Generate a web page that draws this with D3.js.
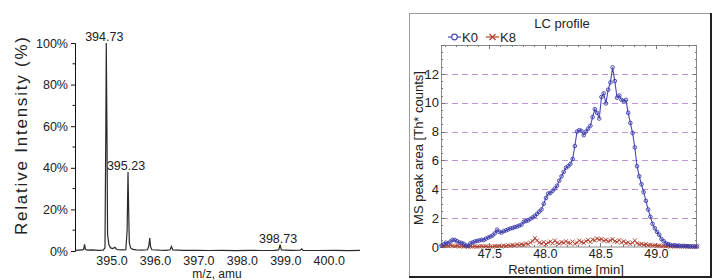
<!DOCTYPE html>
<html><head><meta charset="utf-8">
<script src="https://cdn.jsdelivr.net/npm/d3@7"></script>
<style>
body{margin:0;background:#fff;}
svg{display:block;font-family:Arial,"Liberation Sans",sans-serif;}
</style></head>
<body>
<script>
// ---------- Left: mass spectrum ----------
const specMz = [394.02,394.10,394.18,394.21,394.23,394.25,394.29,394.40,394.55,394.66,394.70,394.72,394.73,394.745,394.76,394.79,394.83,394.88,394.93,394.96,395.00,395.10,395.18,395.21,395.23,395.245,395.26,395.29,395.34,395.42,395.55,395.68,395.71,395.73,395.75,395.78,395.95,396.10,396.20,396.23,396.26,396.50,396.80,397.10,397.40,397.70,398.00,398.30,398.60,398.70,398.73,398.76,399.00,399.20,399.23,399.26,399.60,400.00,400.30,400.57];
const specInt = [0.3,0.4,0.5,0.8,3.2,0.8,0.4,0.5,0.3,0.4,1.5,60,100,60,8,3,1.5,1.2,1.8,1.0,0.6,0.5,0.6,10,38,20,4,1.5,0.8,0.5,0.4,0.6,2.5,6.2,2.0,0.6,0.4,0.3,0.6,2.2,0.5,0.3,0.35,0.25,0.3,0.2,0.3,0.25,0.3,0.5,3.0,0.5,0.3,0.4,1.0,0.3,0.25,0.3,0.2,0.3];
const peakLabels = ["394.73","395.23","398.73"];
const peakMz = [394.73,395.23,398.73];
const peakInt = [100,38,3];
const mzTicks = [395.0,396.0,397.0,398.0,399.0,400.0];
const intTicks = [0,20,40,60,80,100];
const intMinor = [10,30,50,70,90];

// ---------- Right: LC profile ----------
const rtTimes = [47.07,47.09,47.11,47.13,47.15,47.17,47.19,47.21,47.23,47.25,47.27,47.29,47.31,47.33,47.35,47.37,47.39,47.41,47.43,47.45,47.47,47.49,47.51,47.53,47.55,47.57,47.59,47.61,47.63,47.65,47.67,47.69,47.71,47.73,47.75,47.77,47.79,47.81,47.83,47.85,47.87,47.89,47.91,47.93,47.95,47.97,47.99,48.01,48.03,48.05,48.07,48.09,48.11,48.13,48.15,48.17,48.19,48.21,48.23,48.25,48.27,48.29,48.31,48.33,48.35,48.37,48.39,48.41,48.43,48.45,48.47,48.49,48.51,48.53,48.55,48.57,48.59,48.61,48.63,48.65,48.67,48.69,48.71,48.73,48.75,48.77,48.79,48.81,48.83,48.85,48.87,48.89,48.91,48.93,48.95,48.97,48.99,49.01,49.03,49.05,49.07,49.09,49.11,49.13,49.15,49.17,49.19,49.21,49.23,49.25,49.27,49.29,49.31,49.33,49.35,49.37];
const k0 = [0.10,0.20,0.30,0.25,0.38,0.50,0.48,0.40,0.32,0.28,0.22,0.10,0.08,0.25,0.32,0.38,0.42,0.45,0.50,0.48,0.58,0.65,0.72,0.80,0.95,1.20,1.05,1.00,1.10,1.15,1.22,1.28,1.32,1.38,1.42,1.48,1.55,1.75,1.80,1.85,1.95,2.05,2.15,2.30,2.45,2.60,3.00,3.40,3.70,3.75,3.90,4.05,4.25,4.60,4.90,5.20,5.50,5.60,5.75,6.10,7.00,8.00,8.10,8.05,7.75,8.00,8.20,8.40,9.00,9.55,9.30,8.90,10.40,10.65,9.95,10.90,11.40,12.45,11.50,10.35,10.50,10.20,10.10,10.20,9.30,8.60,7.90,6.90,5.60,4.90,4.35,3.80,3.20,2.60,2.10,1.60,1.30,1.05,0.85,0.55,0.40,0.25,0.20,0.15,0.10,0.12,0.08,0.10,0.06,0.08,0.05,0.06,0.04,0.05,0.03,0.04];
const k8 = [0.05,0.08,0.10,0.06,0.12,0.08,0.05,0.10,0.04,0.06,0.03,0.05,0.02,0.04,0.03,0.05,0.02,0.04,0.06,0.03,0.05,0.02,0.04,0.03,0.06,0.05,0.08,0.04,0.10,0.06,0.12,0.08,0.15,0.10,0.18,0.12,0.20,0.15,0.25,0.18,0.30,0.40,0.62,0.45,0.30,0.22,0.35,0.20,0.30,0.38,0.25,0.45,0.30,0.22,0.35,0.28,0.40,0.30,0.25,0.38,0.22,0.30,0.45,0.35,0.28,0.40,0.48,0.35,0.52,0.45,0.60,0.50,0.55,0.42,0.50,0.38,0.45,0.55,0.40,0.35,0.48,0.30,0.40,0.25,0.32,0.20,0.30,0.45,0.25,0.18,0.22,0.15,0.20,0.12,0.15,0.10,0.12,0.08,0.10,0.06,0.08,0.05,0.07,0.04,0.05,0.03,0.05,0.04,0.03,0.05,0.03,0.04,0.02,0.03,0.02,0.03];
const rtTicks = [47.5,48.0,48.5,49.0];
const areaTicks = [0,2,4,6,8,10,12];
const seriesNames = ["K0","K8"];

const svg = d3.select("body").append("svg").attr("width",717).attr("height",280);
const crisp = v => Math.round(v) + 0.5;

// ===== Left chart =====
const xL = d3.scaleLinear().domain([394.01,400.57]).range([75,360]);
const yL = d3.scaleLinear().domain([0,100]).range([251,43]);
const gL = svg.append("g");

const yAxL = d3.axisLeft(yL).tickValues(intTicks).tickFormat(d=>d+"%").tickSize(4).tickPadding(3);
gL.append("g").attr("transform","translate(75,0)").call(yAxL)
  .call(g=>{g.selectAll("text").attr("font-size",12.5).attr("fill","#222").attr("font-family","Arial,'Liberation Sans',sans-serif");
            g.selectAll("line,path").attr("stroke","#111");});
gL.append("g").selectAll("line").data(intMinor).join("line")
  .attr("x1",72.5).attr("x2",75).attr("y1",d=>yL(d)).attr("y2",d=>yL(d)).attr("stroke","#111");

gL.append("g").selectAll("text").data(mzTicks).join("text")
  .attr("x",d=>xL(d)-6).attr("y",265).attr("text-anchor","middle")
  .attr("font-size",12.5).attr("fill","#222").text(d=>d.toFixed(1));

const lineL = d3.line().x((d,i)=>xL(specMz[i])).y(d=>yL(d));
gL.append("path").attr("d",lineL(specInt)).attr("fill","none").attr("stroke","#2a2a2a").attr("stroke-width",1.2);

gL.append("g").selectAll("text").data(peakLabels).join("text")
  .attr("x",(d,i)=>xL(peakMz[i])-2).attr("y",(d,i)=>yL(peakInt[i])-2)
  .attr("text-anchor","middle").attr("font-size",12.5).attr("fill","#222").text(d=>d);

gL.append("text").attr("transform","translate(27,136) rotate(-90)").attr("text-anchor","middle")
  .attr("font-size",17).attr("fill","#222").attr("textLength",198).attr("lengthAdjust","spacing")
  .text("Relative Intensity (%)");
gL.append("text").attr("x",217).attr("y",278).attr("text-anchor","middle").attr("font-size",12).attr("fill","#222").text("m/z, amu");

// ===== Right chart =====
const gR = svg.append("g");
gR.append("rect").attr("x",409.5).attr("y",13.5).attr("width",301).attr("height",263).attr("fill","#fff").attr("stroke","#9a9a9a");
gR.append("line").attr("x1",409).attr("x2",712).attr("y1",277).attr("y2",277).attr("stroke","#222").attr("stroke-width",2);
gR.append("line").attr("x1",711).attr("x2",711).attr("y1",13).attr("y2",278).attr("stroke","#222").attr("stroke-width",2);

const xR = d3.scaleLinear().domain([47.065,49.37]).range([441,697]);
const yR = d3.scaleLinear().domain([0,14]).range([247,45]);

// grid
gR.append("g").selectAll("line").data(areaTicks.filter(d=>d>0)).join("line")
  .attr("x1",442).attr("x2",697).attr("y1",d=>crisp(yR(d))).attr("y2",d=>crisp(yR(d)))
  .attr("stroke","#c093d8").attr("stroke-dasharray","6,4").attr("stroke-width",1);

// plot frame
gR.append("rect").attr("x",441.5).attr("y",45.5).attr("width",255).attr("height",201.5).attr("fill","none").attr("stroke","#8a8a8a");

// minor ticks
const yMinor = d3.range(0,14.01,0.5);
gR.append("g").selectAll("line").data(yMinor).join("line")
  .attr("x1",441).attr("x2",d=>d%2===0?445:443).attr("y1",d=>crisp(yR(d))).attr("y2",d=>crisp(yR(d))).attr("stroke","#777");
gR.append("g").selectAll("line").data(yMinor).join("line")
  .attr("x1",697).attr("x2",d=>d%2===0?693:695).attr("y1",d=>crisp(yR(d))).attr("y2",d=>crisp(yR(d))).attr("stroke","#777");
const xMinor = d3.range(47.1,49.36,0.1);
gR.append("g").selectAll("line").data(xMinor).join("line")
  .attr("x1",d=>crisp(xR(d))).attr("x2",d=>crisp(xR(d))).attr("y1",45).attr("y2",d=>Math.abs(d*2-Math.round(d*2))<0.01?49:47).attr("stroke","#777");
gR.append("g").selectAll("line").data(xMinor).join("line")
  .attr("x1",d=>crisp(xR(d))).attr("x2",d=>crisp(xR(d))).attr("y1",247).attr("y2",d=>Math.abs(d*2-Math.round(d*2))<0.01?243:245).attr("stroke","#777");

// axes labels
const yAxR = d3.axisLeft(yR).tickValues(areaTicks).tickSize(0).tickPadding(2);
gR.append("g").attr("transform","translate(441,0)").call(yAxR)
  .call(g=>{g.select(".domain").remove();g.selectAll("text").attr("font-size",13).attr("fill","#222").attr("font-family","Arial,'Liberation Sans',sans-serif");});
const xAxR = d3.axisBottom(xR).tickValues(rtTicks).tickFormat(d3.format(".1f")).tickSize(0).tickPadding(2);
gR.append("g").attr("transform","translate(0,247)").call(xAxR)
  .call(g=>{g.select(".domain").remove();g.selectAll("text").attr("font-size",12.5).attr("fill","#222").attr("font-family","Arial,'Liberation Sans',sans-serif");});

// series
const blue = "#4a4ab8", red = "#b2402e";
const lineR = d3.line().x((d,i)=>xR(rtTimes[i])).y(d=>yR(d));
gR.append("path").attr("d",lineR(k8)).attr("fill","none").attr("stroke",red).attr("stroke-width",1);
const k8g = gR.append("g").attr("stroke",red).attr("stroke-width",0.9);
k8.forEach((v,i)=>{const x=xR(rtTimes[i]), y=yR(v), s=2;
  k8g.append("path").attr("d",`M${x-s},${y-s}L${x+s},${y+s}M${x-s},${y+s}L${x+s},${y-s}`);});
gR.append("path").attr("d",lineR(k0)).attr("fill","none").attr("stroke",blue).attr("stroke-width",1.1);
gR.append("g").selectAll("circle").data(k0).join("circle")
  .attr("cx",(d,i)=>xR(rtTimes[i])).attr("cy",d=>yR(d)).attr("r",1.8)
  .attr("fill","none").attr("stroke","#3a3aa8").attr("stroke-width",0.9);

// title and legend
gR.append("text").attr("x",562).attr("y",28).attr("text-anchor","middle").attr("font-size",13).attr("fill","#222").text("LC profile");
const lg = gR.append("g");
lg.append("line").attr("x1",448).attr("x2",461).attr("y1",37).attr("y2",37).attr("stroke",blue).attr("stroke-width",1.2);
lg.append("circle").attr("cx",454.5).attr("cy",37).attr("r",2.8).attr("fill","#fff").attr("stroke",blue).attr("stroke-width",1.2);
lg.append("text").attr("x",462).attr("y",42).attr("font-size",13).attr("fill","#222").text(seriesNames[0]);
lg.append("line").attr("x1",486).attr("x2",499).attr("y1",37).attr("y2",37).attr("stroke",red).attr("stroke-width",1.2);
lg.append("path").attr("d","M489.5,34L495.5,40M489.5,40L495.5,34").attr("stroke",red).attr("stroke-width",1.2);
lg.append("text").attr("x",500).attr("y",42).attr("font-size",13).attr("fill","#222").text(seriesNames[1]);

gR.append("text").attr("transform","translate(423,148) rotate(-90)").attr("text-anchor","middle")
  .attr("font-size",13).attr("fill","#222").text("MS peak area [Th* counts]");
gR.append("text").attr("x",566).attr("y",274).attr("text-anchor","middle").attr("font-size",13).attr("fill","#222").text("Retention time [min]");
</script>
</body></html>
